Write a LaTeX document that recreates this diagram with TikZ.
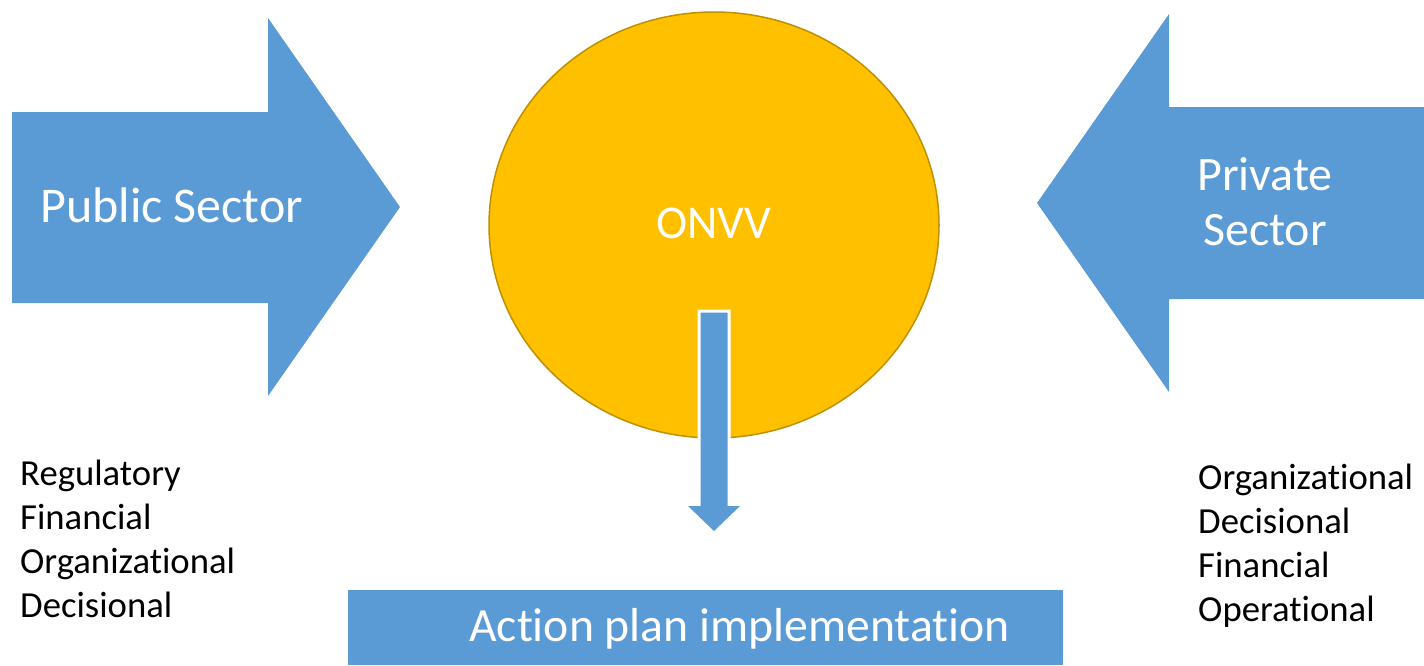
\documentclass[tikz,border=0pt]{standalone}
\usepackage{fontspec}
\setmainfont{Carlito}[Ligatures=NoCommon]
\definecolor{blu}{HTML}{5B9BD5}
\definecolor{gold}{HTML}{FFC000}
\definecolor{goldedge}{HTML}{BF9000}
\tikzset{
  bigtxt/.style={text=white, inner sep=0pt, font=\fontsize{50}{55}\selectfont},
  listtxt/.style={text=black, inner sep=0pt, anchor=base west, font=\fontsize{36.7}{44}\selectfont},
  blockarrow/.style={fill=blu},
}
\begin{document}
\begin{tikzpicture}[x=1pt,y=-1pt]
\useasboundingbox (0,0) rectangle (1424,665);
% left arrow
\fill[blockarrow] (12,112) -- (268,112) -- (268,18) -- (400,207) -- (268,396) -- (268,303) -- (12,303) -- cycle;
% right arrow
\fill[blockarrow] (1424,107) -- (1169,107) -- (1169,14) -- (1037,203) -- (1169,392) -- (1169,299) -- (1424,299) -- cycle;
% circle
\draw[fill=gold, draw=goldedge, line width=1.5pt] (714,225) ellipse [x radius=225, y radius=213];
% down arrow
\filldraw[fill=blu, draw=white, line width=3pt] (699,311) -- (729,311) -- (729,505) -- (741,505) -- (714,532) -- (687,505) -- (699,505) -- cycle;
\fill[blu] (688,506) -- (740,506) -- (714,531) -- cycle;
% bottom box
\fill[blu] (348,590) rectangle (1063,665);
% texts
\node[bigtxt, anchor=base west] (pub) at (40,222) {Public Sector};
\node[bigtxt, align=center, anchor=base, font=\fontsize{48}{55}\selectfont] (priv) at (1265,245) {Private\\Sector};
\node[bigtxt, anchor=base, font=\fontsize{47}{55}\selectfont] (onvv) at (714,238) {ONVV};
\node[bigtxt, anchor=base west, font=\fontsize{47.7}{55}\selectfont] (act) at (469,641) {Action plan implementation};
\node[listtxt] (l1) at (20,485) {Regulatory};
\node[listtxt] (l2) at (20,529) {Financial};
\node[listtxt] (l3) at (20,573) {Organizational};
\node[listtxt] (l4) at (20,617) {Decisional};
\node[listtxt] (r1) at (1198,489) {Organizational};
\node[listtxt] (r2) at (1198,533) {Decisional};
\node[listtxt] (r3) at (1198,577) {Financial};
\node[listtxt] (r4) at (1198,621) {Operational};
\end{tikzpicture}
\end{document}
